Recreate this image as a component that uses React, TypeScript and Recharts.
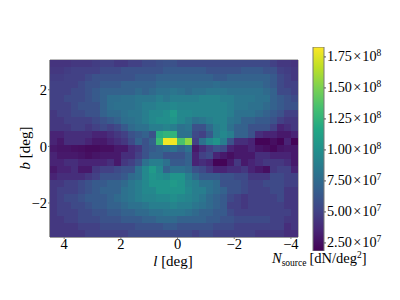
import { Bar, BarChart, ReferenceArea, Scatter, ScatterChart, XAxis, YAxis } from 'recharts';

const SERIF = '"Liberation Serif", "Times New Roman", serif';

// galactic longitude / latitude of the bin centres (deg)
const lon = [
  4.375, 4.125, 3.875, 3.625, 3.375, 3.125, 2.875, 2.625, 2.375, 2.125, 1.875, 1.625,
  1.375, 1.125, 0.875, 0.625, 0.375, 0.125, -0.125, -0.375, -0.625, -0.875, -1.125,
  -1.375, -1.625, -1.875, -2.125, -2.375, -2.625, -2.875, -3.125, -3.375, -3.625,
  -3.875, -4.125,
];
const lat = [
  2.925, 2.675, 2.425, 2.175, 1.925, 1.675, 1.425, 1.175, 0.925, 0.675, 0.425, 0.175,
  -0.075, -0.325, -0.575, -0.825, -1.075, -1.325, -1.575, -1.825, -2.075, -2.325,
  -2.575, -2.825, -3.075,
];

// N_source per bin, in units of 1e7 dN/deg2, one row per lat value
const density = [
  [4.3,4.3,4.3,4.5,4.5,4.5,4.8,5,5,4.6,4.6,5,5,5.5,5.5,5.8,6, 6,5.5,5.5,5.5,5.5,5.5,5.5,5.5,5.5,5.5,5.5,5.5,5.5,5.5,5,4.5,4.5,4.3],
  [4.5,4.5,4.8,5,5,5,5,5.5,5.5,5.5,6,6,6,6,6,6,6.5, 6.5,6.5,6.5,6.5,6.5,6,6,6,6,6,6.5,6.5,6.5,6,6,5,4.8,4.5],
  [4.8,4.8,5,5,5,5.5,6,6,6,6,6,6,6.5,6.5,6.5,7,7, 7,7,7,7,7,7,6.5,6.5,7,7,7,7,7,7,6.5,5.5,5,4.5],
  [5,5,5,5,5.5,6,6,6.5,6.5,6.5,7,7,7,7,7,7.5,7.5, 7.5,7.5,7.5,7.5,7.5,7.5,7.8,7.5,7.5,7.5,7.5,7.5,7.5,7,6.5,5.5,5,5],
  [5,5,5,5.5,5.5,6,6.5,7,7,7,7,7,7.5,7,7.5,8,8, 8.3,8,7.5,8,8,8.3,8.3,8.3,8,8,8,8,8,7.5,7,5.5,5.5,5],
  [5,5,5.5,5.5,5.5,6,6.5,7,7.8,7.8,8,8,8.3,8.3,8.3,8.8,8.3, 8.8,8.8,8.8,8.8,9.2,9.2,9.2,8.8,8.8,8.3,8.3,8.3,8,8,7,6.5,6,5.5],
  [5,5,5,5.5,6,6,6,7,7.8,8,8,8,8.3,8.8,8.8,9.2,9.2, 9.5,9.2,9.2,9.2,9.2,9.2,9.2,9.2,8.8,8.3,8.3,8,8,7.5,7,6.5,6,6],
  [4.5,5,5,5.5,5.5,6,6,7,7.5,7.5,8,8.3,8.3,8.8,9.5,9.5,9.9, 10.7,9.5,9.5,9.2,9.2,9.2,9.2,9.2,8.8,8,8,8,7.5,7,6.5,6,5,5],
  [4.5,4.5,5,5,5,5,5.5,6,6.5,7,7.8,8,8.3,8.8,9.5,9.9,9.9, 10.3,9.5,8.8,8,8.3,8.8,9.2,9.2,8.3,8,7,7,6.5,6.5,6,5,4.5,4.5],
  [4.5,4.5,4.5,5,5,4.5,5,5.5,5,5.5,6.5,7.5,8,8,8.8,8.8,9.2, 8.8,8,8.3,6,6,7.5,8.8,9.2,8,7,7,6,6,6,5,3.5,4,4.5],
  [3.5,3.5,4,4,4,4,3.5,3.5,4,4.5,5,6,6.5,7,6,12,12.5, 12.5,8,8,5.5,5,6.5,8.8,9.5,8.8,7,7,6,4,3.5,3.5,3,3,3.5],
  [3.5,3,4,4,4,3.5,3,3,3.5,4,4.5,5.5,7,6,7,13,18, 18,13.5,15.5,5,8,9.5,10.3,8.8,6,4,4,3.5,2,2,2.5,2,3.5,2],
  [3,2.8,2.8,2.6,2.5,2.3,2.3,2.5,2.5,3,3,4,4.5,6,6.5,7,7.5, 8,7,8,3,4,5,6,5.5,3.5,3,3,3.5,2.8,2.5,2.2,2.8,3,3],
  [3.5,3,3,3,2.8,2.5,2.8,3,3,3,4,4,5,6,7,7,6, 6,6,7,3.5,5,5.5,3.5,3,2.5,3,3,3,4,4,3.5,3.5,3.5,3],
  [3.5,3.5,4,4,3.5,3.5,3.5,3.5,4,3,4.5,5,6,8,8.8,8.8,8, 6.5,6.5,7,3.5,4,3.5,2,2,3,4.5,3,3.5,4,4.5,4.5,4.5,4,3],
  [3,3.5,3.5,4,3,3,4.5,5,5,5.5,6,6,8,9.5,10.7,9.5,7, 8,8,7.5,6,5.5,4.5,3.5,3.5,4,4,4.5,3.5,3,2.5,4.5,5,5,3.5],
  [3.5,4,4,4,4,4.5,5,6,6,6,6.5,7.5,8,9.5,10.3,9.9,9.5, 10.3,10.3,8.8,7.5,6.5,6.5,6.5,6,6,5.5,5.5,4.5,4.5,4.5,5.5,5.5,5,5],
  [4.5,4.5,5,5,5.5,6,6.5,6.5,7,7,7.5,8.3,8.8,9.5,10.3,10.3,10.3, 10.7,10.3,9.2,8.8,8,8,7.5,6,6,6,5.5,5,5,5.5,5.5,5.5,5,5],
  [4.5,5,5,5,5.5,6,6.5,7,7,7,8,8.3,8.8,9.5,9.5,10.3,10.3, 10.3,10.3,9.5,8.8,8.8,8,7.5,7,6,6,5.5,5,5,5,5.5,5.5,4.5,4.5],
  [4.5,5,5.5,5.5,6,6.5,6.5,6.5,7,7.5,8,8.3,8.8,9.2,9.2,9.5,9.5, 9.9,9.5,9.2,8.8,8.3,7.5,7,6.5,5.5,5,4.5,5,5,5,5,5.5,4.5,4.5],
  [4.5,5,5,5.5,5.5,6,6.5,6.5,7,7,7.5,8,8,8.3,8.8,8.8,8.8, 9.2,8.8,8.8,8.3,8,7.5,7,6.5,5,5,4.5,5,5,5,5,5,4.5,4.5],
  [4.5,5,5,5,5.5,5.5,6,6,6.5,6.5,7,7,7.5,7.5,8,8,8.3, 8.3,8.3,8,7.5,7,7,6.5,6.5,5.5,5,5,5,5,5,5,5,5,4.5],
  [4.5,4.5,5,5,5.5,5.5,5.5,6,6,6,6.5,6.5,6.5,7,7,7.5,7.5, 7.5,7,7,7,7,6.5,6.5,6,6,5.5,5.5,5.5,5.5,5.5,5,5,4.5,4.5],
  [4.5,4.5,4.5,4.5,5,5,5,5.5,5.5,5.5,5.5,5.5,6,6,6,6,6.5, 6.5,6,6,6,6,6,5.5,5.5,5.5,5,5,5,5,5,5,5,4,4.5],
  [4.5,4.5,4.5,4.5,4.5,5,5,5,5,5,5,5.5,5.5,5.5,5.5,5.5,5.5, 5.5,5.5,5.5,5,5.5,5.5,5,5,5,5,5,5,4.5,4.5,4.5,4.5,4,4],
];

const lonTicks = [4, 2, 0, -2, -4];
const latTicks = [2, 0, -2];
const barTicks = [2.5, 5, 7.5, 10, 12.5, 15, 17.5];
const barRange = [1.85, 18.3];

const viridis = ['#440154', '#482475', '#414487', '#355f8d', '#2a788e', '#21918c', '#22a884', '#44bf70', '#7ad151', '#bddf26', '#fde725'];

const cells = density.flatMap((row, i) => row.map((v, j) => ({ l: lon[j], b: lat[i], v })));
const barData = [{ name: 'N', range: barRange }];

const hexToRgb = (h: string) => [1, 3, 5].map((k) => parseInt(h.slice(k, k + 2), 16));

const colorOf = (v: number) => {
  const t = Math.min(1, Math.max(0, (v - barRange[0]) / (barRange[1] - barRange[0]))) * (viridis.length - 1);
  const i = Math.min(viridis.length - 2, Math.floor(t));
  const a = hexToRgb(viridis[i]);
  const b = hexToRgb(viridis[i + 1]);
  const c = a.map((x, k) => Math.round(x + (b[k] - x) * (t - i)));
  return `rgb(${c.join(',')})`;
};

const minus = (v: number) => String(v).replace('-', '\u2212');

const HeatCell = (p: any) => (
  <rect x={p.cx - 3.6} y={p.cy - 3.6} width={7.4} height={7.4} fill={colorOf(p.payload.v)} shapeRendering="crispEdges" />
);

const BarTick = ({ x, y, payload }: any) => {
  const sci = payload.value >= 10;
  const m = (sci ? payload.value / 10 : payload.value).toFixed(2);
  return (
    <text x={x} y={y + 4.5} fontFamily={SERIF} fontSize={14.2} fill="#000">
      {m}
      <tspan dx={1.5}>×</tspan>
      <tspan dx={1}>10</tspan>
      <tspan fontSize={9.5} dy={-5.5}>{sci ? '8' : '7'}</tspan>
    </text>
  );
};

export default function App() {
  return (
    <div style={{ position: 'absolute', left: 0, top: 0, width: 400, height: 300, background: '#fff' }}>
      <div style={{ position: 'absolute', left: 0, top: 0 }}>
        <ScatterChart width={400} height={300} margin={{ top: 60, right: 102, bottom: 33, left: 0 }}>
          <XAxis
            type="number"
            dataKey="l"
            domain={[-4.25, 4.5]}
            reversed
            ticks={lonTicks}
            tickFormatter={minus}
            tick={{ fontFamily: SERIF, fontSize: 14.5, fill: '#000' }}
            tickSize={2}
            tickMargin={0}
            height={30}
            stroke="#777"
            allowDataOverflow
          />
          <YAxis
            type="number"
            dataKey="b"
            domain={[-3.2, 3.05]}
            ticks={latTicks}
            tickFormatter={minus}
            tick={{ fontFamily: SERIF, fontSize: 14.5, fill: '#000' }}
            tickSize={2}
            tickMargin={1}
            width={50}
            stroke="#777"
            allowDataOverflow
          />
          <Scatter data={cells} shape={HeatCell} isAnimationActive={false} />
          <ReferenceArea x1={-4.25} x2={4.5} y1={-3.2} y2={3.05} fill="none" stroke="#777" strokeWidth={1} />
          <text x={173} y={266} textAnchor="middle" fontFamily={SERIF} fontSize={15} fill="#000">
            <tspan fontStyle="italic">l</tspan> [deg]
          </text>
          <text x={30} y={148} textAnchor="middle" transform="rotate(-90 30 148)" fontFamily={SERIF} fontSize={15} fill="#000">
            <tspan fontStyle="italic">b</tspan> [deg]
          </text>
        </ScatterChart>
      </div>
      <div style={{ position: 'absolute', left: 300, top: 0 }}>
        <BarChart width={100} height={300} data={barData} barCategoryGap={0} margin={{ top: 47, right: 6, bottom: 49, left: 13 }}>
          <defs>
            <linearGradient id="viridis" x1="0" y1="1" x2="0" y2="0">
              {viridis.map((c, i) => (
                <stop key={c} offset={i / (viridis.length - 1)} stopColor={c} />
              ))}
            </linearGradient>
          </defs>
          <XAxis dataKey="name" hide />
          <YAxis
            orientation="right"
            type="number"
            domain={barRange}
            ticks={barTicks}
            tick={BarTick}
            tickSize={2}
            tickMargin={1}
            width={70}
            axisLine={false}
            stroke="#555"
            interval={0}
            allowDataOverflow
          />
          <Bar dataKey="range" fill="url(#viridis)" stroke="#777" strokeWidth={1} isAnimationActive={false} />
        </BarChart>
      </div>
      <svg width={400} height={300} style={{ position: 'absolute', left: 0, top: 0, pointerEvents: 'none' }}>
        <text x={272} y={263} fontFamily={SERIF} fontSize={14.5} fill="#000">
          <tspan fontStyle="italic">N</tspan>
          <tspan fontSize={9.5} dy={3}>source</tspan>
          <tspan dy={-3} dx={3}>[dN/deg</tspan>
          <tspan fontSize={9.5} dy={-5.5}>2</tspan>
          <tspan dy={5.5}>]</tspan>
        </text>
      </svg>
    </div>
  );
}
